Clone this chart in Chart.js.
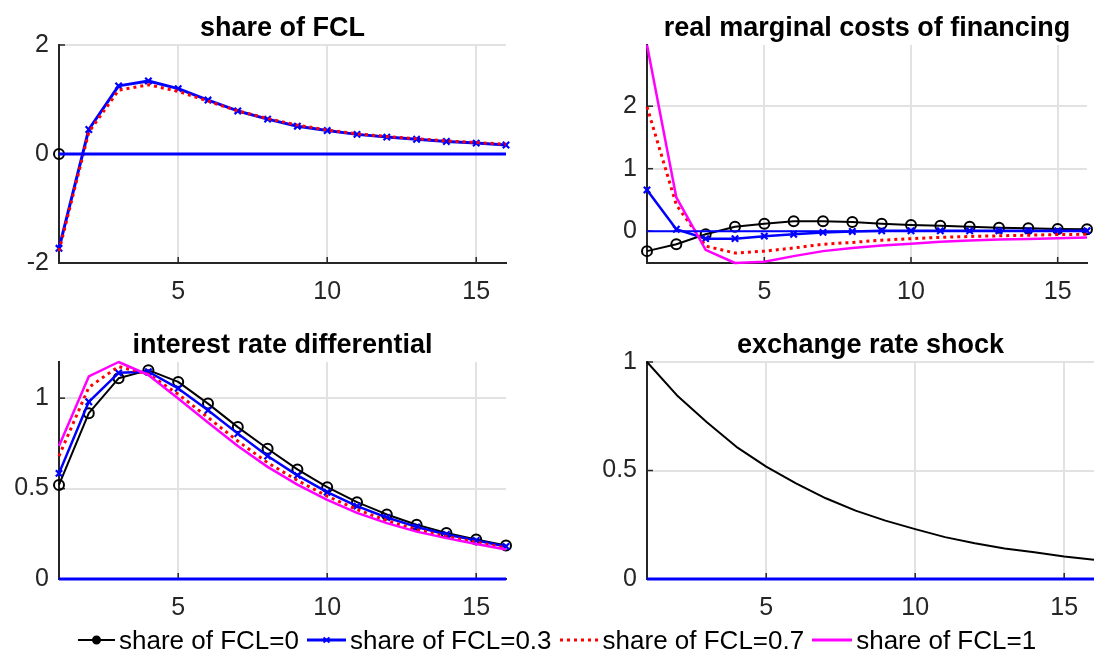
<!DOCTYPE html>
<html><head><meta charset="utf-8">
<script src="https://cdn.jsdelivr.net/npm/chart.js@4.4.0/dist/chart.umd.min.js"></script>
<style>
html,body{margin:0;padding:0;background:#fff;width:1094px;height:655px;overflow:hidden;position:relative;}
canvas{position:absolute;left:0;top:0;}
#legend{position:absolute;left:78px;top:624px;height:32px;display:flex;align-items:center;font-family:"Liberation Sans",Arial,sans-serif;font-size:26px;color:#000;white-space:nowrap;}
.item{display:flex;align-items:center;margin-right:8px;}
.item svg{margin-right:4px;display:block;}
</style></head><body>
<canvas id="c1" width="1094" height="655"></canvas>
<canvas id="c2" width="1094" height="655"></canvas>
<canvas id="c3" width="1094" height="655"></canvas>
<canvas id="c4" width="1094" height="655"></canvas>
<div id="legend">
  <div class="item"><svg width="37" height="20"><line x1="0" y1="10" x2="37" y2="10" stroke="#000" stroke-width="2"/><circle cx="18.5" cy="10" r="3.5" stroke="#000" stroke-width="2" fill="#000"/></svg><span id="lg0"></span></div>
  <div class="item"><svg width="39" height="20"><line x1="0" y1="10" x2="39" y2="10" stroke="#0000ff" stroke-width="3"/><path d="M16.5 7.5 L22.5 12.5 M16.5 12.5 L22.5 7.5" stroke="#0000ff" stroke-width="2"/></svg><span id="lg1"></span></div>
  <div class="item"><svg width="39" height="20"><line x1="0" y1="10" x2="39" y2="10" stroke="#ff0000" stroke-width="3" stroke-dasharray="3,4"/></svg><span id="lg2"></span></div>
  <div class="item"><svg width="40" height="20"><line x1="0" y1="10" x2="40" y2="10" stroke="#ff00ff" stroke-width="3"/></svg><span id="lg3"></span></div>
</div>
<script>
// ---------- data ----------
const periods = [1,2,3,4,5,6,7,8,9,10,11,12,13,14,15,16];
const xTicks = [5,10,15];
const seriesNames = ["share of FCL=0","share of FCL=0.3","share of FCL=0.7","share of FCL=1"];
const panelTitles = ["share of FCL","real marginal costs of financing","interest rate differential","exchange rate shock"];

const zeroLine = [0,0,0,0,0,0,0,0,0,0,0,0,0,0,0,0];

// share of FCL
const share_0  = [0,null,null,null,null,null,null,null,null,null,null,null,null,null,null,null];
const share_03 = [-1.73,0.45,1.25,1.34,1.2,0.99,0.79,0.64,0.51,0.43,0.36,0.31,0.27,0.23,0.2,0.165];
const share_07 = [-1.78,0.4,1.17,1.27,1.15,0.97,0.79,0.65,0.53,0.44,0.37,0.32,0.28,0.24,0.21,0.18];
const shareTicks = [-2,0,2];
const shareRange = [-2,2];

// real marginal costs of financing
const rmc_0  = [-0.32,-0.21,-0.05,0.07,0.12,0.16,0.16,0.145,0.12,0.1,0.085,0.07,0.055,0.045,0.035,0.03];
const rmc_03 = [0.66,0.03,-0.12,-0.12,-0.08,-0.05,-0.02,-0.005,0.005,0.005,0.005,0.005,0.005,0.005,0.005,0.005];
const rmc_07 = [1.99,0.42,-0.24,-0.35,-0.32,-0.27,-0.21,-0.18,-0.145,-0.12,-0.1,-0.085,-0.075,-0.065,-0.055,-0.05];
const rmc_1  = [2.98,0.54,-0.3,-0.51,-0.49,-0.4,-0.32,-0.27,-0.23,-0.2,-0.17,-0.15,-0.135,-0.125,-0.115,-0.1];
const rmcTicks = [0,1,2];
const rmcRange = [-0.51,2.98];

// interest rate differential
const ird_0  = [0.52,0.917,1.11,1.155,1.09,0.97,0.84,0.72,0.606,0.508,0.425,0.357,0.30,0.255,0.218,0.185];
const ird_03 = [0.584,0.98,1.14,1.146,1.054,0.933,0.804,0.68,0.573,0.48,0.403,0.34,0.288,0.246,0.213,0.18];
const ird_07 = [0.68,1.06,1.175,1.133,1.022,0.893,0.763,0.643,0.545,0.458,0.384,0.323,0.273,0.235,0.203,0.172];
const ird_1  = [0.736,1.12,1.2,1.128,0.998,0.865,0.736,0.62,0.522,0.437,0.366,0.309,0.262,0.226,0.194,0.163];
const irdTicks = [0,0.5,1];
const irdRange = [0,1.2];

// exchange rate shock
const shock = [1.0,0.847,0.724,0.609,0.518,0.441,0.372,0.315,0.269,0.23,0.193,0.165,0.141,0.123,0.104,0.089];
const shockTicks = [0,0.5,1];
const shockRange = [0,1];

// ---------- styling ----------
const FONT = '"Liberation Sans", Arial, Helvetica, sans-serif';
const AX = '#262626';
const TITLE_SIZE = 27, TITLE_PAD = 3;

function pts(arr){ return periods.map((p,i)=>({x:p, y:arr[i]})); }

const styles = {
  black:   {borderColor:'#000000', borderWidth:2, pointStyle:'circle', pointRadius:5, pointBorderWidth:2, pointBackgroundColor:'rgba(0,0,0,0)', pointBorderColor:'#000000', order:4},
  blue:    {borderColor:'#0000ff', borderWidth:3, pointStyle:'crossRot', pointRadius:4.5, pointBorderWidth:2.2, pointBorderColor:'#0000ff', order:3},
  red:     {borderColor:'#ff0000', borderWidth:3, borderDash:[3,4], pointRadius:0, order:2},
  magenta: {borderColor:'#ff00ff', borderWidth:2.5, pointRadius:0, order:1},
  zero:    {borderColor:'#0000ff', borderWidth:3, pointRadius:0, order:0},
  plain:   {borderColor:'#000000', borderWidth:2, pointRadius:0, order:1}
};
function ds(label, arr, st){
  return Object.assign({label, data: pts(arr), fill:false, tension:0, clip:false, borderCapStyle:'butt', borderJoinStyle:'round'}, st);
}

const inwardTicks = {
  id:'inwardTicks',
  beforeDatasetsDraw(chart){
    const ctx = chart.ctx, a = chart.chartArea;
    const xs = chart.scales.x, ys = chart.scales.y;
    ctx.save();
    ctx.strokeStyle = AX; ctx.lineWidth = 1.5;
    xs.ticks.forEach(t=>{ const px = xs.getPixelForValue(t.value); ctx.beginPath(); ctx.moveTo(px, a.bottom); ctx.lineTo(px, a.bottom-6); ctx.stroke(); });
    ys.ticks.forEach(t=>{ const py = ys.getPixelForValue(t.value); ctx.beginPath(); ctx.moveTo(a.left, py); ctx.lineTo(a.left+6, py); ctx.stroke(); });
    ctx.restore();
  }
};

function makeChart(id, box, title, datasets, yTicks, yRange){
  const [L,T,R,B] = box;
  return new Chart(document.getElementById(id), {
    type:'line',
    data:{datasets},
    options:{
      responsive:false, animation:false, events:[],
      layout:{padding:{left:0, right:1094-R, top:T-(TITLE_SIZE+TITLE_PAD), bottom:0}},
      plugins:{
        legend:{display:false}, tooltip:{enabled:false},
        title:{display:true, fullSize:false, text:title, color:'#000', font:{family:FONT, size:TITLE_SIZE, weight:'bold', lineHeight:1}, padding:{top:0,bottom:TITLE_PAD}}
      },
      scales:{
        x:{type:'linear', min:periods[0], max:periods[periods.length-1],
           afterBuildTicks:s=>{ s.ticks = xTicks.map(v=>({value:v})); },
           afterFit:s=>{ s.height=655-B; s.paddingLeft=0; s.paddingRight=0; s.paddingTop=0; s.paddingBottom=0; },
           grid:{color:'#e2e2e2', lineWidth:2, drawTicks:false},
           border:{display:true, color:AX, width:2},
           ticks:{color:AX, padding:17, maxRotation:0, autoSkip:false, font:{family:FONT, size:25, lineHeight:1}, callback:v=>String(v)}},
        y:{type:'linear', min:yRange[0], max:yRange[1],
           afterBuildTicks:s=>{ s.ticks = yTicks.map(v=>({value:v})); },
           afterFit:s=>{ s.width=L; s.paddingLeft=0; s.paddingRight=0; s.paddingTop=0; s.paddingBottom=0; },
           grid:{color:'#e2e2e2', lineWidth:2, drawTicks:false},
           border:{display:true, color:AX, width:2},
           ticks:{color:AX, padding:10, autoSkip:false, font:{family:FONT, size:25, lineHeight:1}, callback:v=>String(v)}}
      }
    },
    plugins:[inwardTicks]
  });
}

makeChart('c1', [59,45,506,263], panelTitles[0], [
  ds(seriesNames[0], share_0, styles.black),
  ds(seriesNames[1], share_03, styles.blue),
  ds(seriesNames[2], share_07, styles.red),
  ds('zero', zeroLine, styles.zero)
], shareTicks, shareRange);

makeChart('c2', [647,45,1094,263], panelTitles[1], [
  ds(seriesNames[0], rmc_0, styles.black),
  ds(seriesNames[1], rmc_03, Object.assign({}, styles.blue, {borderWidth:2.5})),
  ds(seriesNames[2], rmc_07, styles.red),
  ds(seriesNames[3], rmc_1, styles.magenta),
  ds('zero', zeroLine, Object.assign({}, styles.zero, {borderWidth:2}))
], rmcTicks, rmcRange);

makeChart('c3', [59,362,506,579], panelTitles[2], [
  ds(seriesNames[0], ird_0, styles.black),
  ds(seriesNames[1], ird_03, Object.assign({}, styles.blue, {borderWidth:2.5})),
  ds(seriesNames[2], ird_07, styles.red),
  ds(seriesNames[3], ird_1, styles.magenta),
  ds('zero', zeroLine, styles.zero)
], irdTicks, irdRange);

makeChart('c4', [647,362,1094,579], panelTitles[3], [
  ds('shock', shock, styles.plain),
  ds('zero', zeroLine, styles.zero)
], shockTicks, shockRange);

seriesNames.forEach((n,i)=>{ document.getElementById('lg'+i).textContent = n; });
</script>
</body></html>
